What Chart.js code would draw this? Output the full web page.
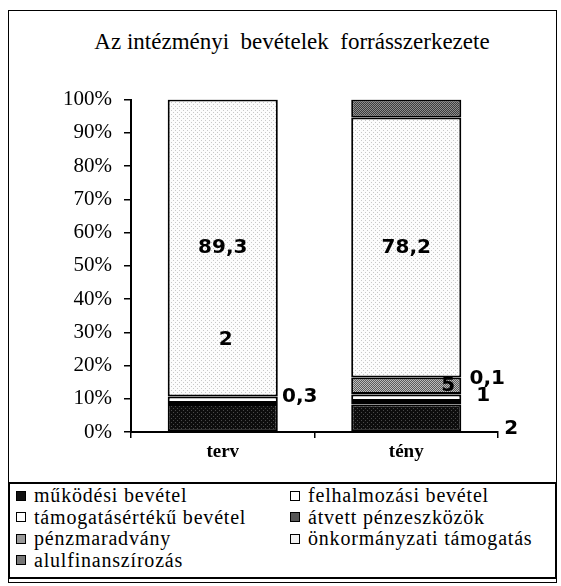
<!DOCTYPE html>
<html lang="hu">
<head>
<meta charset="utf-8">
<script src="https://cdn.jsdelivr.net/npm/chart.js@4.4.0/dist/chart.umd.min.js"></script>
<style>
    body { margin: 0; background: #fff; }
    #keret {
        position: absolute; left: 8px; top: 10px; width: 549px; height: 573px;
        border: 1.5px solid #000; box-sizing: border-box;
    }
    #cim {
        position: absolute; left: 0; top: 30px; width: 584px; text-align: center;
        font: 23px "Liberation Serif"; line-height: 24px; color: #000;
    }
    #grafik { position: absolute; left: 0; top: 0; }
    #jelmagyarazat {
        position: absolute; left: 8px; top: 482px; width: 549px; height: 97px;
        border: 2px solid #000; box-sizing: border-box; padding: 1px 0 0 6px;
        display: grid; grid-template-columns: 274px auto; grid-auto-rows: 21.5px;
        font: 20px "Liberation Serif"; letter-spacing: 0.8px; color: #000;
        overflow: hidden; white-space: nowrap;
    }
    .elem { display: flex; align-items: center; }
    .negyzet { width: 10px; height: 10px; border: 1px solid #000; box-sizing: border-box; margin-right: 8px; flex: none; }
</style>
</head>
<body>
<div id="keret"></div>
<div id="cim">Az intézményi&nbsp; bevételek&nbsp; forrásszerkezete</div>
<canvas id="grafik" width="561" height="480"></canvas>
<div id="jelmagyarazat"></div>
<script>
// kategóriák és értékek (%)
const kategoriak = ['terv', 'tény'];
const mukodesiBevetel = [8.4, 8.3];
const felhalmozasiBevetel = [0.3, 1];
const tamogatasertekuBevetel = [2, 2];
const atvettPenzeszkozok = [0, 0.1];
const penzmaradvany = [0, 5];
const onkormanyzatiTamogatas = [89.3, 78.2];
const alulfinanszirozas = [0, 5.4];
const yTickErtekek = [0, 10, 20, 30, 40, 50, 60, 70, 80, 90, 100];

const sorozatNevek = [
    'működési bevétel', 'felhalmozási bevétel', 'támogatásértékű bevétel',
    'átvett pénzeszközök', 'pénzmaradvány', 'önkormányzati támogatás', 'alulfinanszírozás'
];
const sorozatAdatok = [
    mukodesiBevetel, felhalmozasiBevetel, tamogatasertekuBevetel,
    atvettPenzeszkozok, penzmaradvany, onkormanyzatiTamogatas, alulfinanszirozas
];

// pöttyös minták a régi nyomtatott kitöltéshez
function minta(alap, potty, pottyE) {
    const c = document.createElement('canvas');
    c.width = 4; c.height = 4;
    const g = c.getContext('2d');
    g.fillStyle = alap;
    g.fillRect(0, 0, 4, 4);
    g.fillStyle = potty;
    for (let y = 0; y < 4; y++) {
        for (let x = 0; x < 4; x++) {
            if (pottyE(x, y)) g.fillRect(x, y, 1, 1);
        }
    }
    return g.createPattern(c, 'repeat');
}

const ritka = (x, y) => (x === 1 && y === 0) || (x === 3 && y === 2);
const sakk = (x, y) => (x + y) % 2 === 0;

const fontSerif = '"Liberation Serif", serif';

const kitoltesek = [
    minta('#0d0d0d', '#4a4a4a', ritka),
    '#ffffff',
    '#ffffff',
    minta('#333333', '#888888', sakk),
    minta('#5c5c5c', '#bdbdbd', sakk),
    minta('#fcfcfc', '#c8c8c8', ritka),
    minta('#3c3c3c', '#8e8e8e', sakk)
];
const jelSzinek = ['#111', '#fff', '#fff', '#555', '#999', '#f2f2f2', '#777'];

// adatcímkék elhelyezése (y: érték a tengelyen, null = szegmens közepe)
const cimkeHelyek = [
    { ds: 5, kat: 0, dx: 0, y: null },
    { ds: 2, kat: 0, dx: 3, y: 27.7 },
    { ds: 1, kat: 0, dx: 77, y: 10.5 },
    { ds: 5, kat: 1, dx: 0, y: null },
    { ds: 4, kat: 1, dx: 42, y: null },
    { ds: 3, kat: 1, dx: 81, y: 16 },
    { ds: 1, kat: 1, dx: 77, y: 10.8 },
    { ds: 2, kat: 1, dx: 105, y: 0.9 }
];

const adatCimkek = {
    id: 'adatCimkek',
    afterDatasetsDraw(chart) {
        const ctx = chart.ctx;
        const yScale = chart.scales.y;
        ctx.save();
        ctx.font = 'bold 20px "DejaVu Sans"';
        ctx.fillStyle = '#000';
        ctx.textAlign = 'center';
        ctx.textBaseline = 'middle';
        cimkeHelyek.forEach(h => {
            const elem = chart.getDatasetMeta(h.ds).data[h.kat];
            const ertek = sorozatAdatok[h.ds][h.kat];
            if (!elem) return;
            const x = elem.x + h.dx;
            const y = h.y === null ? (elem.y + elem.base) / 2 : yScale.getPixelForValue(h.y);
            ctx.fillText(String(ertek).replace('.', ','), x, y);
        });
        ctx.restore();
    }
};

new Chart(document.getElementById('grafik').getContext('2d'), {
    type: 'bar',
    data: {
        labels: kategoriak,
        datasets: sorozatNevek.map((nev, i) => ({
            label: nev,
            data: sorozatAdatok[i],
            backgroundColor: kitoltesek[i],
            borderColor: '#000',
            borderWidth: c => (c.raw > 0 ? 2 : 0),
            borderSkipped: false,
            barPercentage: 1,
            categoryPercentage: 0.6
        }))
    },
    options: {
        responsive: false,
        animation: false,
        devicePixelRatio: 1,
        layout: { padding: { top: 99.5, right: 63, left: 0, bottom: 0 } },
        plugins: {
            legend: { display: false },
            title: { display: false },
            tooltip: { enabled: false }
        },
        scales: {
            x: {
                stacked: true,
                afterFit: s => { s.height = 48; },
                grid: { drawOnChartArea: false, tickLength: 6, color: '#000', lineWidth: 1.5 },
                border: { color: '#000', width: 2 },
                ticks: { color: '#000', padding: 3, font: { family: fontSerif, size: 19, weight: 'bold' } }
            },
            y: {
                stacked: true,
                min: 0,
                max: 100,
                afterFit: s => { s.width = 131; },
                afterBuildTicks: s => { s.ticks = yTickErtekek.map(v => ({ value: v })); },
                grid: { drawOnChartArea: false, tickLength: 7, color: '#000', lineWidth: 1.5 },
                border: { color: '#000', width: 2 },
                ticks: {
                    color: '#000',
                    padding: 12,
                    font: { family: fontSerif, size: 21 },
                    callback: v => v + '%'
                }
            }
        }
    },
    plugins: [adatCimkek]
});

// jelmagyarázat két oszlopban
const jm = document.getElementById('jelmagyarazat');
sorozatNevek.forEach((nev, i) => {
    const d = document.createElement('div');
    d.className = 'elem';
    const n = document.createElement('span');
    n.className = 'negyzet';
    n.style.background = jelSzinek[i];
    d.appendChild(n);
    d.appendChild(document.createTextNode(nev));
    jm.appendChild(d);
});
</script>
</body>
</html>
